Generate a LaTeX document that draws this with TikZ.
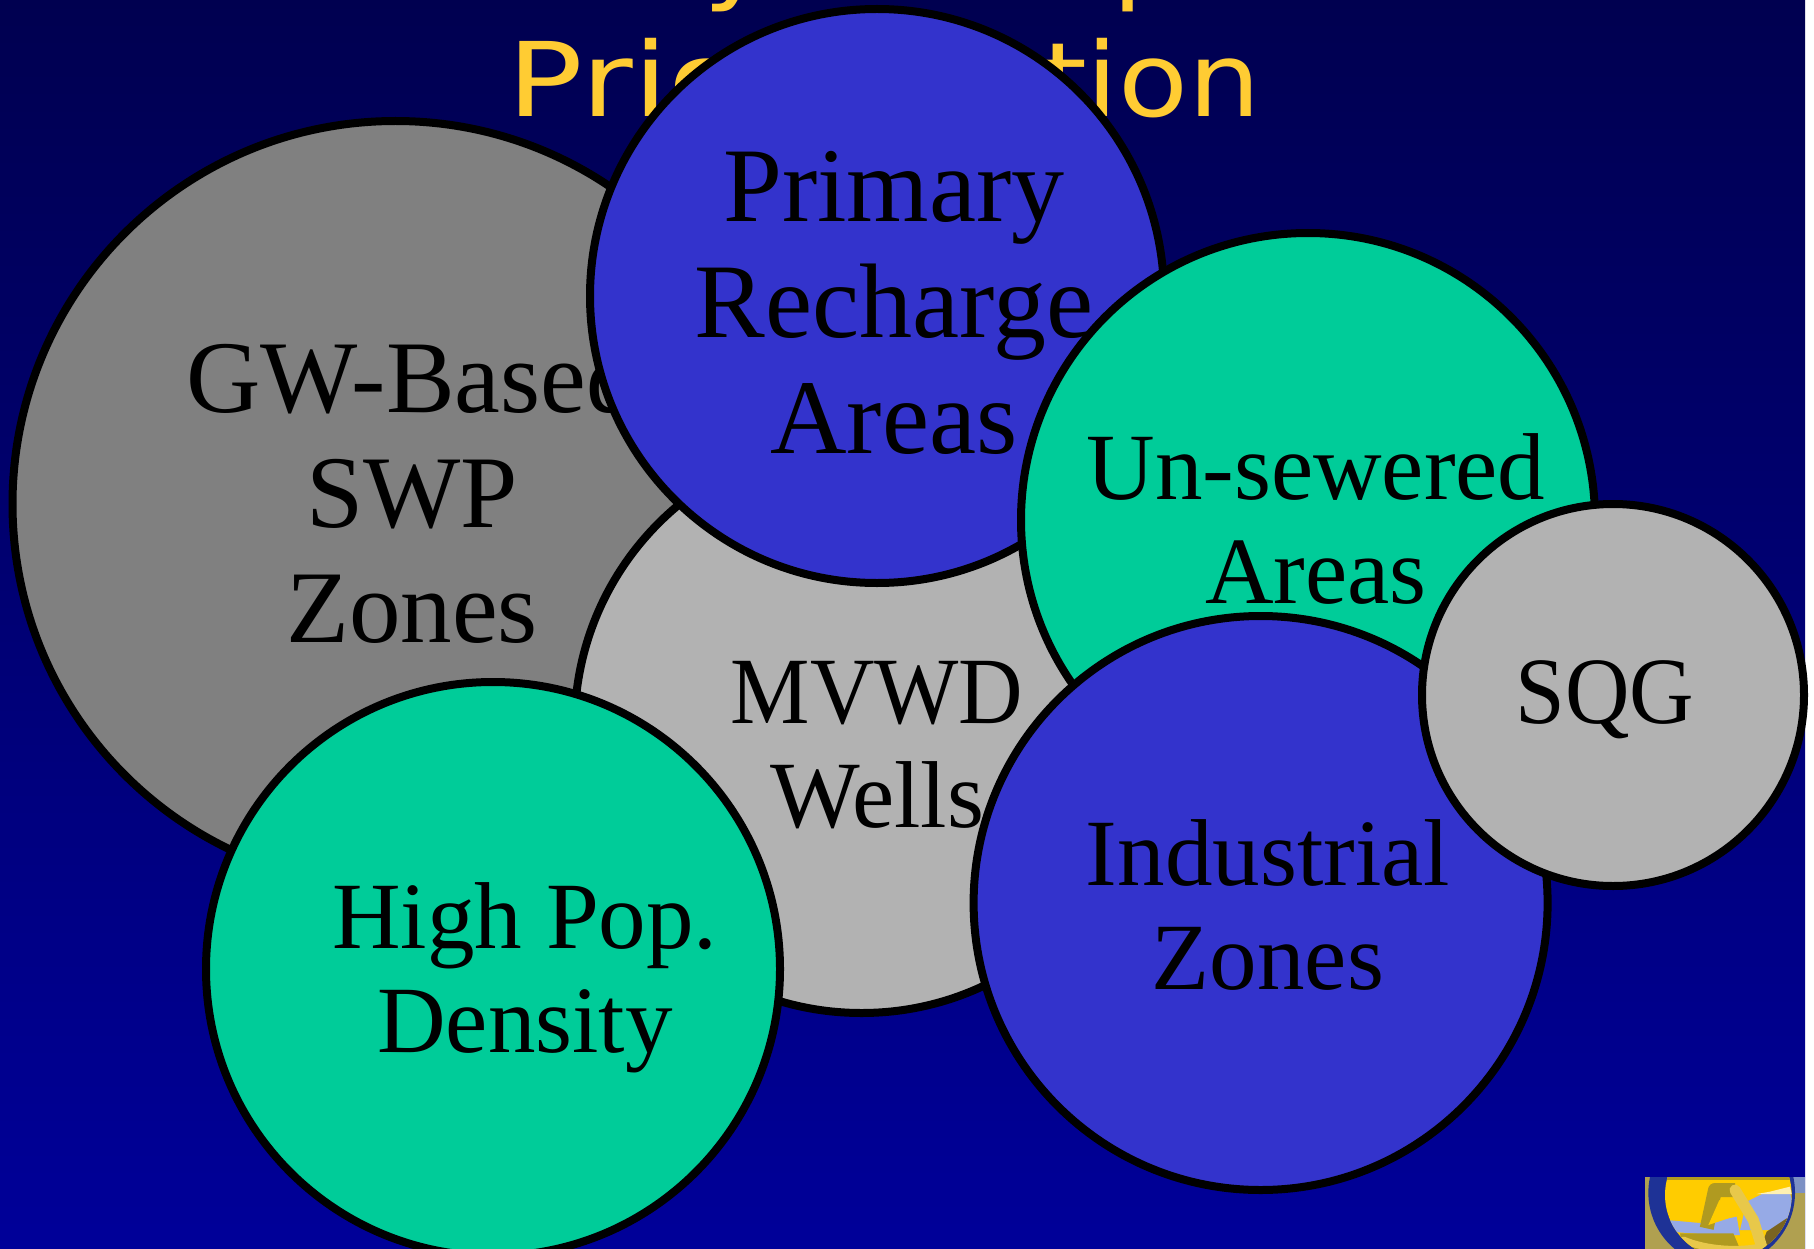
\documentclass[tikz,border=0pt]{standalone}
\usepackage{fontspec}
\setmainfont{Liberation Serif}
\newfontfamily\titlefont{DejaVu Sans}
\newcommand{\stretchedto}[1]{\addfontfeatures{FakeStretch=#1}}
\definecolor{bgtop}{HTML}{000050}
\definecolor{bgbot}{HTML}{000099}
\definecolor{blobgray}{HTML}{808080}
\definecolor{blobblue}{HTML}{3333CC}
\definecolor{blobgreen}{HTML}{00CC99}
\definecolor{bloblight}{HTML}{B2B2B2}
\definecolor{titleyellow}{HTML}{FFCC33}
\definecolor{logotan}{HTML}{B0A050}
\definecolor{logoring}{HTML}{1E3296}
\definecolor{logosun}{HTML}{FFCC00}
\definecolor{logosky}{HTML}{96AAE6}
\definecolor{logogold}{HTML}{B09A20}
\definecolor{logolight}{HTML}{E8C84A}
\definecolor{logobrown}{HTML}{7A6420}
\definecolor{logoslate}{HTML}{7C90C4}
\tikzset{
  blob/.style={circle,draw=black,line width=8pt,inner sep=0pt,minimum size=#1},
  biglabel/.style={align=center,inner sep=0pt,text=black,font=\fontsize{106}{116}\selectfont},
  gwlabel/.style={align=center,inner sep=0pt,text=black,font=\fontsize{103}{115}\selectfont},
  smalllabel/.style={align=center,inner sep=0pt,text=black,font=\fontsize{95}{104}\selectfont},
  titletext/.style={anchor=base west,inner sep=0pt,text=titleyellow,font=\titlefont\fontsize{103}{120}\selectfont},
}
\begin{document}
\begin{tikzpicture}[x=1pt,y=-1pt]
\useasboundingbox (0,0) rectangle (1814,1249);
\fill[white] (0,0) rectangle (1814,1249);
\shade[top color=bgtop,bottom color=bgbot] (0,0) rectangle (1805,1249);
% title, mostly hidden behind the first circles
\node[titletext] (tity) at (703,-9) {\stretchedto{1.11}y};
\node[titletext] (titp) at (1112,-9) {\stretchedto{1.11}p};
\node[titletext] (title) at (507.7,117) {{\stretchedto{1.22}Prio}\kern 20pt ritiza\kern 20pt{\stretchedto{1.11}tion}};
% circles, back to front
\node[blob=766,fill=blobgray] (gw) at (395.5,504) {};
\node[gwlabel] (gwt) at (412,492) {GW-Based\\SWP\\Zones};
\node[blob=574,fill=bloblight] (mv) at (861.6,726) {};
\node[smalllabel] (mvt) at (877,745) {{\stretchedto{.94}MVWD}\\Wells};
\node[blob=574,fill=blobblue] (pr) at (877,296) {};
\node[biglabel] (prt) at (894,303) {Primary\\Recharge\\Areas};
\node[blob=574,fill=blobgreen] (hp) at (493,969) {};
\node[smalllabel] (hpt) at (525,978) {High Pop.\\Density};
\node[blob=574,fill=blobgreen] (us) at (1308,520) {};
\node[smalllabel] (ust) at (1316,519) {Un-sewered\\Areas};
\node[blob=574,fill=blobblue] (in) at (1260.6,903) {};
\node[smalllabel] (int) at (1268,905) {Industrial\\Zones};
\node[blob=382,fill=bloblight] (sq) at (1613,695) {};
\node[smalllabel] (sqt) at (1605,700) {\stretchedto{.94}SQG};
% logo, drawn in the 3x coordinates of its crop
\begin{scope}[shift={(1640,1170)},x=0.33333pt,y=-0.33333pt]
\clip (15,22) rectangle (495,237);
\fill[logotan] (15,22) rectangle (495,237);
\fill[logoslate] (440,22) rectangle (495,70);
\fill[logoring] (245,68) circle (220);
\begin{scope}
\clip (265,75) circle (190);
\fill[logosun] (15,22) rectangle (495,237);
\fill[logosky] (320,95) -- (370,70) -- (450,70) -- (470,140) -- (400,180) -- (300,180) -- cycle;
\fill[white!70!logosun] (350,72) -- (390,65) -- (450,50) -- (455,72) -- cycle;
\fill[logosky] (80,150) -- (190,160) -- (290,140) -- (300,195) -- (220,195) -- (90,185) -- cycle;
\fill[logobrown] (380,185) -- (440,145) -- (470,160) -- (420,237) -- (360,237) -- cycle;
\fill[logogold] (120,190) -- (280,190) -- (300,237) -- (130,237) -- cycle;
\draw[logogold,line width=14pt,line join=round] (200,175) -- (225,60) -- (285,60);
\draw[logolight,line width=11pt,line cap=round] (285,60) -- (340,150) -- (365,230);
\draw[logolight,line width=7pt,line cap=round] (130,210) .. controls (200,240) and (300,245) .. (365,230);
\fill[logosun] (238,90) -- (280,140) -- (205,165) -- cycle;
\fill[logogold] (15,22) rectangle (495,30);
\end{scope}
\end{scope}
\end{tikzpicture}
\end{document}
